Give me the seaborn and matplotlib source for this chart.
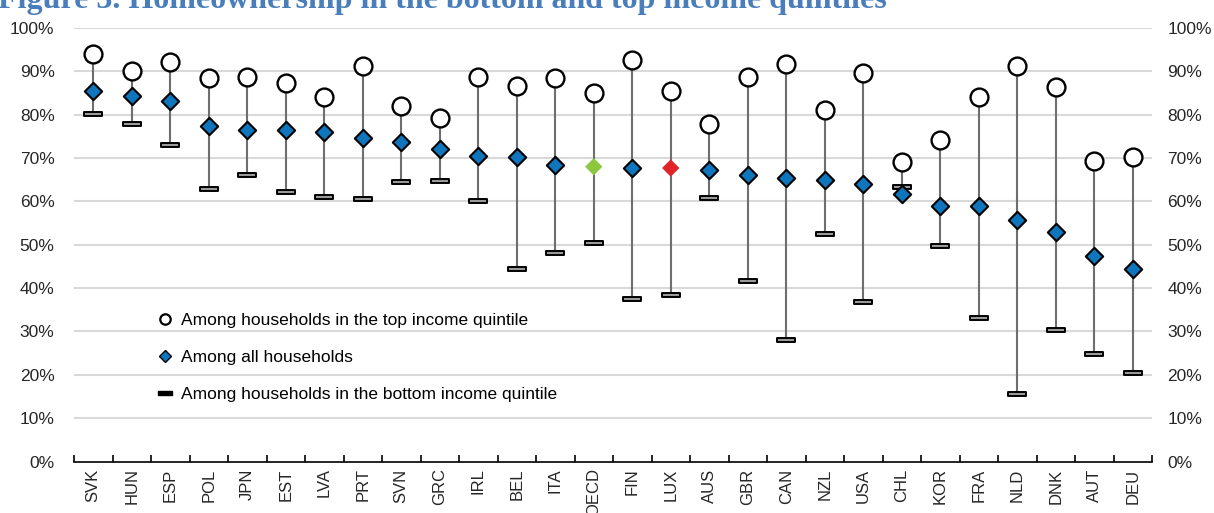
import numpy as np
import pandas as pd
import matplotlib
matplotlib.use("Agg")
import matplotlib.pyplot as plt
from matplotlib.path import Path
from matplotlib.lines import Line2D
import seaborn as sns

countries = ["SVK", "HUN", "ESP", "POL", "JPN", "EST", "LVA", "PRT", "SVN", "GRC",
             "IRL", "BEL", "ITA", "OECD", "FIN", "LUX", "AUS", "GBR", "CAN", "NZL",
             "USA", "CHL", "KOR", "FRA", "NLD", "DNK", "AUT", "DEU"]
top_quintile = [93.9, 90.1, 92.1, 88.4, 88.7, 87.3, 84.1, 91.3, 81.9, 79.2,
                88.7, 86.6, 88.5, 84.9, 92.7, 85.4, 77.9, 88.7, 91.7, 81.1,
                89.7, 69.0, 74.2, 84.1, 91.3, 86.3, 69.4, 70.2]
all_households = [85.4, 84.2, 83.1, 77.4, 76.5, 76.5, 76.0, 74.7, 73.8, 72.0,
                  70.5, 70.3, 68.3, 68.0, 67.6, 67.7, 67.3, 66.1, 65.5, 65.0,
                  63.9, 61.8, 58.9, 58.9, 55.6, 52.9, 47.5, 44.4]
bottom_quintile = [80.2, 77.9, 72.9, 62.8, 66.1, 62.1, 61.1, 60.6, 64.4, 64.7,
                   60.2, 44.4, 48.1, 50.3, 37.5, 38.5, 60.8, 41.7, 28.1, 52.5,
                   36.9, 63.3, 49.7, 33.0, 15.5, 30.4, 24.8, 20.4]
y_ticks = [0, 10, 20, 30, 40, 50, 60, 70, 80, 90, 100]
legend_labels = ["Among households in the top income quintile",
                 "Among all households",
                 "Among households in the bottom income quintile"]
title_text = "Figure 3. Homeownership in the bottom and top income quintiles"

df = pd.DataFrame({"country": countries, "top": top_quintile,
                   "all": all_households, "bottom": bottom_quintile})
df["pos"] = np.arange(len(df))
df["lo"] = df[["top", "all", "bottom"]].min(axis=1)
df["hi"] = df[["top", "all", "bottom"]].max(axis=1)

sns.set_theme(style="white")
plt.rcParams["font.family"] = ["Liberation Sans", "DejaVu Sans"]
plt.rcParams["text.color"] = "black"

BLUE = "#0F75BC"
fig = plt.figure(figsize=(12.14, 5.13), dpi=100)
ax = fig.add_axes([74 / 1214, 1 - 461.5 / 513, (1152 - 74) / 1214, (461.5 - 28) / 513])

# grid
for v in y_ticks[1:]:
    ax.axhline(v, color="#d9d9d9", lw=1.5, zorder=0)

# range lines
ax.vlines(df["pos"], df["lo"], df["hi"], color="#6e6e6e", lw=1.5, zorder=1)

bar_marker = Path([(-1, -0.28), (1, -0.28), (1, 0.28), (-1, 0.28), (-1, -0.28)],
                  [Path.MOVETO, Path.LINETO, Path.LINETO, Path.LINETO, Path.CLOSEPOLY])

sns.scatterplot(data=df, x="pos", y="bottom", marker=bar_marker, s=165,
                color="#9a9a9a", edgecolor="black", linewidth=1.4, zorder=3, ax=ax)

regular = df[~df["country"].isin(["OECD", "LUX"])]
sns.scatterplot(data=regular, x="pos", y="all", marker="D", s=78,
                color=BLUE, edgecolor="black", linewidth=1.5, zorder=4, ax=ax)
sns.scatterplot(data=df[df["country"] == "OECD"], x="pos", y="all", marker="D", s=78,
                color="#8DC63F", edgecolor="none", linewidth=0, zorder=4, ax=ax)
sns.scatterplot(data=df[df["country"] == "LUX"], x="pos", y="all", marker="D", s=78,
                color="#E0242A", edgecolor="none", linewidth=0, zorder=4, ax=ax)
sns.scatterplot(data=df, x="pos", y="top", marker="o", s=165,
                color="white", edgecolor="black", linewidth=1.7, zorder=5, ax=ax)

ax.set_xlim(-0.5, len(df) - 0.5)
ax.set_ylim(0, 100)
ax.set_xlabel("")
ax.set_ylabel("")

# x axis
ax.set_xticks(df["pos"])
ax.set_xticklabels(countries, rotation=90, fontsize=12)
ax.set_xticks(np.arange(len(df) + 1) - 0.5, minor=True)
ax.tick_params(axis="x", which="major", length=0, pad=5)
ax.tick_params(axis="x", which="minor", direction="in", length=5, width=1.2,
               color="black", bottom=True)

# y axis left
ax.set_yticks(y_ticks)
ax.set_yticklabels([f"{v}%" for v in y_ticks], fontsize=12.5)
ax.tick_params(axis="y", which="both", length=0, left=True, right=False,
               labelleft=True, labelright=False, pad=14)

# y axis right (twin)
ax2 = ax.twinx()
ax2.set_ylim(0, 100)
ax2.set_yticks(y_ticks)
ax2.set_yticklabels([f"{v}%" for v in y_ticks], fontsize=12.5)
ax2.tick_params(axis="y", length=0, pad=11)
ax2.grid(False)

for a in (ax, ax2):
    for side in ["left", "right", "top"]:
        a.spines[side].set_visible(False)
ax2.spines["bottom"].set_visible(False)
ax.spines["bottom"].set_color("black")
ax.spines["bottom"].set_linewidth(1.2)
ax.spines["bottom"].set_zorder(6)

# legend
handles = [
    Line2D([], [], linestyle="none", marker="o", markersize=7.5, markerfacecolor="white",
           markeredgecolor="black", markeredgewidth=1.6),
    Line2D([], [], linestyle="none", marker="D", markersize=6.5, markerfacecolor=BLUE,
           markeredgecolor="black", markeredgewidth=1.0),
    Line2D([], [], linestyle="none", marker=bar_marker, markersize=10,
           markerfacecolor="black", markeredgecolor="black", markeredgewidth=1.0),
]
leg = ax.legend(handles, legend_labels, loc="upper left",
                bbox_to_anchor=(158 / 1214, 1 - 313 / 513), bbox_transform=fig.transFigure,
                frameon=False, fontsize=12.5, handlelength=0.8, handletextpad=0.5,
                labelspacing=1.26, borderaxespad=0, borderpad=0)

fig.text(-0.002, 1 - 8 / 513, title_text, fontsize=23, fontweight="bold",
         family=["Liberation Serif", "DejaVu Serif"], color="#4A7EBB",
         ha="left", va="baseline")

fig.savefig("out.png", dpi=100)
